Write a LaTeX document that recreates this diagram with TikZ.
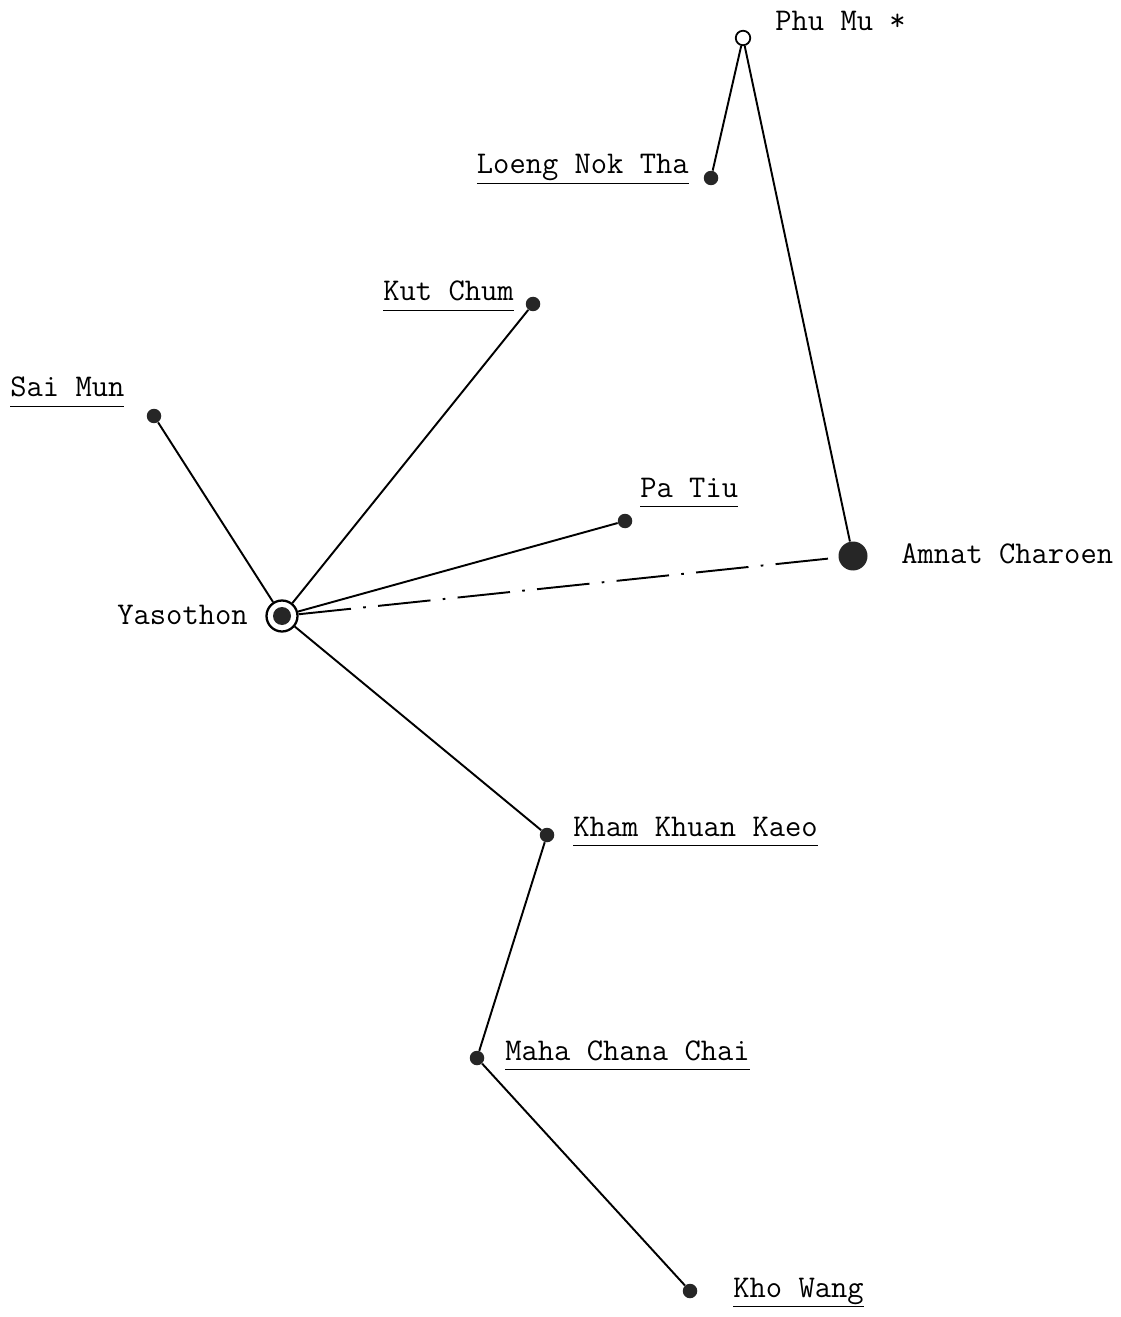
\documentclass[tikz,border=0pt]{standalone}
\usetikzlibrary{positioning}
\tikzset{
  town/.style={circle, fill=black!85, inner sep=0pt, minimum size=0.29cm},
  bigtown/.style={circle, fill=black!85, inner sep=0pt, minimum size=0.58cm},
  peak/.style={circle, draw, line width=1pt, fill=white, inner sep=0pt, minimum size=0.29cm},
  capital/.style={circle, draw, line width=1.3pt, inner sep=0pt, minimum size=0.62cm},
  placename/.style={font=\ttfamily\fontsize{18}{21}\selectfont, inner sep=0pt},
  road/.style={line width=1.1pt},
  track/.style={line width=1.1pt, dash pattern=on 30pt off 7pt on 1.5pt off 7pt}
}
\newcommand{\uname}[1]{\underline{\vphantom{g}#1}}

\begin{document}
\begin{tikzpicture}[x=0.02cm, y=-0.02cm]
  \useasboundingbox (0,0) rectangle (1121,1317);
  % places
  \node[peak] (phumu) at (743,38) {};
  \node[town] (loeng) at (711,178) {};
  \node[town] (kutchum) at (533,304) {};
  \node[town] (saimun) at (154,416) {};
  \node[town] (patiu) at (625,521) {};
  \node[bigtown] (amnat) at (853,556) {};
  \node[capital] (yaso) at (282,616) {};
  \node[town, minimum size=0.36cm] (yasodot) at (282,616) {};
  \node[town] (khamkhuan) at (547,835) {};
  \node[town] (maha) at (477,1058) {};
  \node[town] (khowang) at (690,1291) {};
  % names
  \node[placename, anchor=base west] (phumu-l) at (775,31) {Phu Mu *};
  \node[placename, anchor=base east] (loeng-l) at (689,174) {\uname{Loeng Nok Tha}};
  \node[placename, anchor=base west] (kutchum-l) at (383,301) {\uname{Kut Chum}};
  \node[placename, anchor=base west] (saimun-l) at (10,397) {\uname{Sai Mun}};
  \node[placename, anchor=base west] (patiu-l) at (640,497) {\uname{Pa Tiu}};
  \node[placename, anchor=base west] (amnat-l) at (901,563) {Amnat Charoen};
  \node[placename, anchor=base east] (yaso-l) at (248,624) {Yasothon};
  \node[placename, anchor=base west] (khamkhuan-l) at (573,836) {\uname{Kham Khuan Kaeo}};
  \node[placename, anchor=base west] (maha-l) at (505,1060) {\uname{Maha Chana Chai}};
  \node[placename, anchor=base west] (khowang-l) at (733,1297) {\uname{Kho Wang}};
  % roads
  \draw[road] (yaso) -- (saimun);
  \draw[road] (yaso) -- (kutchum);
  \draw[road] (yaso) -- (patiu);
  \draw[road] (yaso) -- (khamkhuan);
  \draw[road] (khamkhuan) -- (maha);
  \draw[road] (maha) -- (khowang);
  \draw[road] (amnat) -- (phumu);
  \draw[road] (phumu) -- (loeng);
  \draw[track] (yaso) -- (amnat);
\end{tikzpicture}
\end{document}
